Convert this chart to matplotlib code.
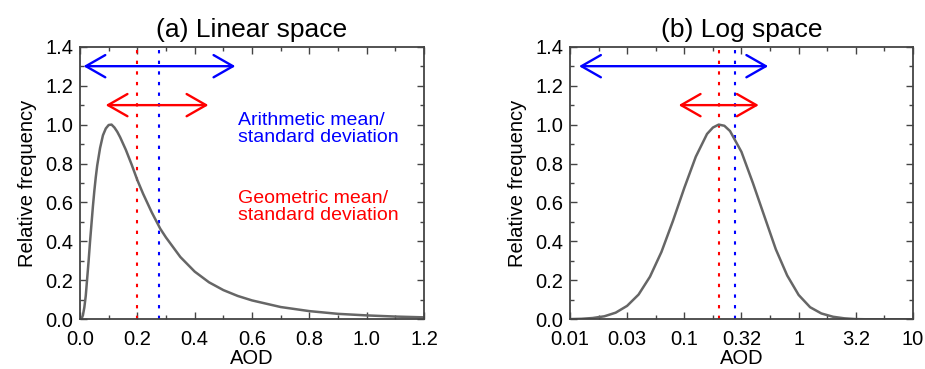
import matplotlib
matplotlib.use("Agg")
import matplotlib.pyplot as plt
from matplotlib.ticker import FixedLocator

plt.rcParams['font.family'] = ['Liberation Sans', 'DejaVu Sans']

# ---------------- data ----------------
# (a) linear space: relative frequency vs AOD
lin_aod = [0.0, 0.005, 0.01, 0.015, 0.02, 0.025, 0.03, 0.035, 0.04, 0.045, 0.05, 0.055, 0.06, 0.07,
           0.08, 0.09, 0.10, 0.11, 0.12, 0.13, 0.14, 0.16, 0.18, 0.20, 0.22, 0.25, 0.28,
           0.30, 0.35, 0.40, 0.45, 0.50, 0.55, 0.60, 0.70, 0.80, 0.90, 1.00, 1.10, 1.20]
lin_freq = [0.0, 0.002, 0.02, 0.06, 0.12, 0.21, 0.30, 0.40, 0.49, 0.58, 0.66, 0.73, 0.79, 0.88,
            0.945, 0.98, 0.998, 1.0, 0.985, 0.963, 0.935, 0.87, 0.795, 0.715, 0.645, 0.55, 0.465,
            0.42, 0.32, 0.245, 0.19, 0.15, 0.12, 0.097, 0.063, 0.042, 0.028, 0.02, 0.014, 0.01]

# (b) log space: relative frequency vs AOD (log axis)
log_aod = [0.01, 0.0126, 0.0158, 0.02, 0.0251, 0.0316, 0.0398, 0.0501, 0.0631, 0.0794,
           0.1, 0.126, 0.158, 0.178, 0.2, 0.224, 0.251, 0.316, 0.398, 0.501, 0.631, 0.794,
           1.0, 1.26, 1.58, 2.0, 2.51, 3.16, 3.98, 10.0]
log_freq = [0.001, 0.0025, 0.0066, 0.0155, 0.034, 0.069, 0.127, 0.219, 0.346, 0.504,
            0.675, 0.835, 0.952, 0.985, 1.0, 0.994, 0.967, 0.86, 0.70, 0.53, 0.36, 0.225,
            0.125, 0.062, 0.03, 0.013, 0.005, 0.001, 0.0, 0.0]

arith_mean = 0.277
arith_std = 0.265
geo_mean = 0.2
geo_std = 2.24

lin_xticks = [0.0, 0.2, 0.4, 0.6, 0.8, 1.0, 1.2]
lin_xtick_labels = ['0.0', '0.2', '0.4', '0.6', '0.8', '1.0', '1.2']
log_xticks = [0.01, 0.0316, 0.1, 0.316, 1.0, 3.16, 10.0]
log_xtick_labels = ['0.01', '0.03', '0.1', '0.32', '1', '3.2', '10']
log_xminor = [0.0178, 0.0562, 0.178, 0.562, 1.78, 5.62]
yticks = [0.0, 0.2, 0.4, 0.6, 0.8, 1.0, 1.2, 1.4]
ytick_labels = ['0.0', '0.2', '0.4', '0.6', '0.8', '1.0', '1.2', '1.4']

# ---------------- figure ----------------
fig = plt.figure(figsize=(9.25, 3.69), dpi=100)
ax1 = fig.add_axes([0.0865, 0.1347, 0.3719, 0.7387])
ax2 = fig.add_axes([0.6162, 0.1347, 0.3708, 0.7387])

curve_col = '#666666'
frame_col = '#444444'
fs_tick = 14.5
fs_title = 19

arrow_blue = dict(arrowstyle='<->,head_length=1.4,head_width=0.8', color='blue',
                  lw=1.7, mutation_scale=10, shrinkA=0, shrinkB=0)
arrow_red = dict(arrowstyle='<->,head_length=1.4,head_width=0.8', color='red',
                 lw=1.7, mutation_scale=10, shrinkA=0, shrinkB=0)

for ax in (ax1, ax2):
    ax.set_ylim(0, 1.4)
    ax.set_yticks(yticks)
    ax.set_yticklabels(ytick_labels)
    ax.yaxis.set_minor_locator(FixedLocator([0.1, 0.3, 0.5, 0.7, 0.9, 1.1, 1.3]))
    ax.tick_params(which='both', direction='in', top=True, right=True,
                   labelsize=fs_tick, color=frame_col)
    ax.tick_params(which='major', length=5, width=1.0)
    ax.tick_params(which='minor', length=3, width=1.0)
    ax.tick_params(axis='x', pad=8)
    ax.tick_params(axis='y', pad=5)
    for sp in ax.spines.values():
        sp.set_color(frame_col)
        sp.set_linewidth(1.3)
    ax.set_xlabel('AOD', fontsize=fs_tick, labelpad=0)
    ax.set_ylabel('Relative frequency', fontsize=fs_tick, labelpad=6)
    # mean lines
    ax.axvline(geo_mean, color='red', lw=1.5, linestyle=(0, (1.6, 3.5)))
    ax.axvline(arith_mean, color='blue', lw=1.5, linestyle=(0, (1.6, 3.5)))
    # arrows
    ax.annotate('', xy=(arith_mean + arith_std, 1.3), xytext=(arith_mean - arith_std, 1.3),
                arrowprops=arrow_blue)
    ax.annotate('', xy=(geo_mean * geo_std, 1.1), xytext=(geo_mean / geo_std, 1.1),
                arrowprops=arrow_red)

# (a)
ax1.plot(lin_aod, lin_freq, color=curve_col, lw=1.8)
ax1.set_xlim(0, 1.2)
ax1.set_xticks(lin_xticks)
ax1.set_xticklabels(lin_xtick_labels)
ax1.xaxis.set_minor_locator(FixedLocator([0.1, 0.3, 0.5, 0.7, 0.9, 1.1]))
ax1.set_title('(a) Linear space', fontsize=fs_title, pad=7)
ax1.text(0.55, 1.0, 'Arithmetic mean/', color='blue', fontsize=14, va='baseline')
ax1.text(0.55, 0.909, 'standard deviation', color='blue', fontsize=14, va='baseline')
ax1.text(0.55, 0.597, 'Geometric mean/', color='red', fontsize=14, va='baseline')
ax1.text(0.55, 0.512, 'standard deviation', color='red', fontsize=14, va='baseline')

# (b)
ax2.plot(log_aod, log_freq, color=curve_col, lw=1.8)
ax2.set_xscale('log')
ax2.set_xlim(0.01, 10)
ax2.xaxis.set_major_locator(FixedLocator(log_xticks))
ax2.set_xticklabels(log_xtick_labels)
ax2.xaxis.set_minor_locator(FixedLocator(log_xminor))
ax2.xaxis.set_minor_formatter(plt.NullFormatter())
ax2.set_title('(b) Log space', fontsize=fs_title, pad=7)

fig.savefig('out.png', dpi=100)
